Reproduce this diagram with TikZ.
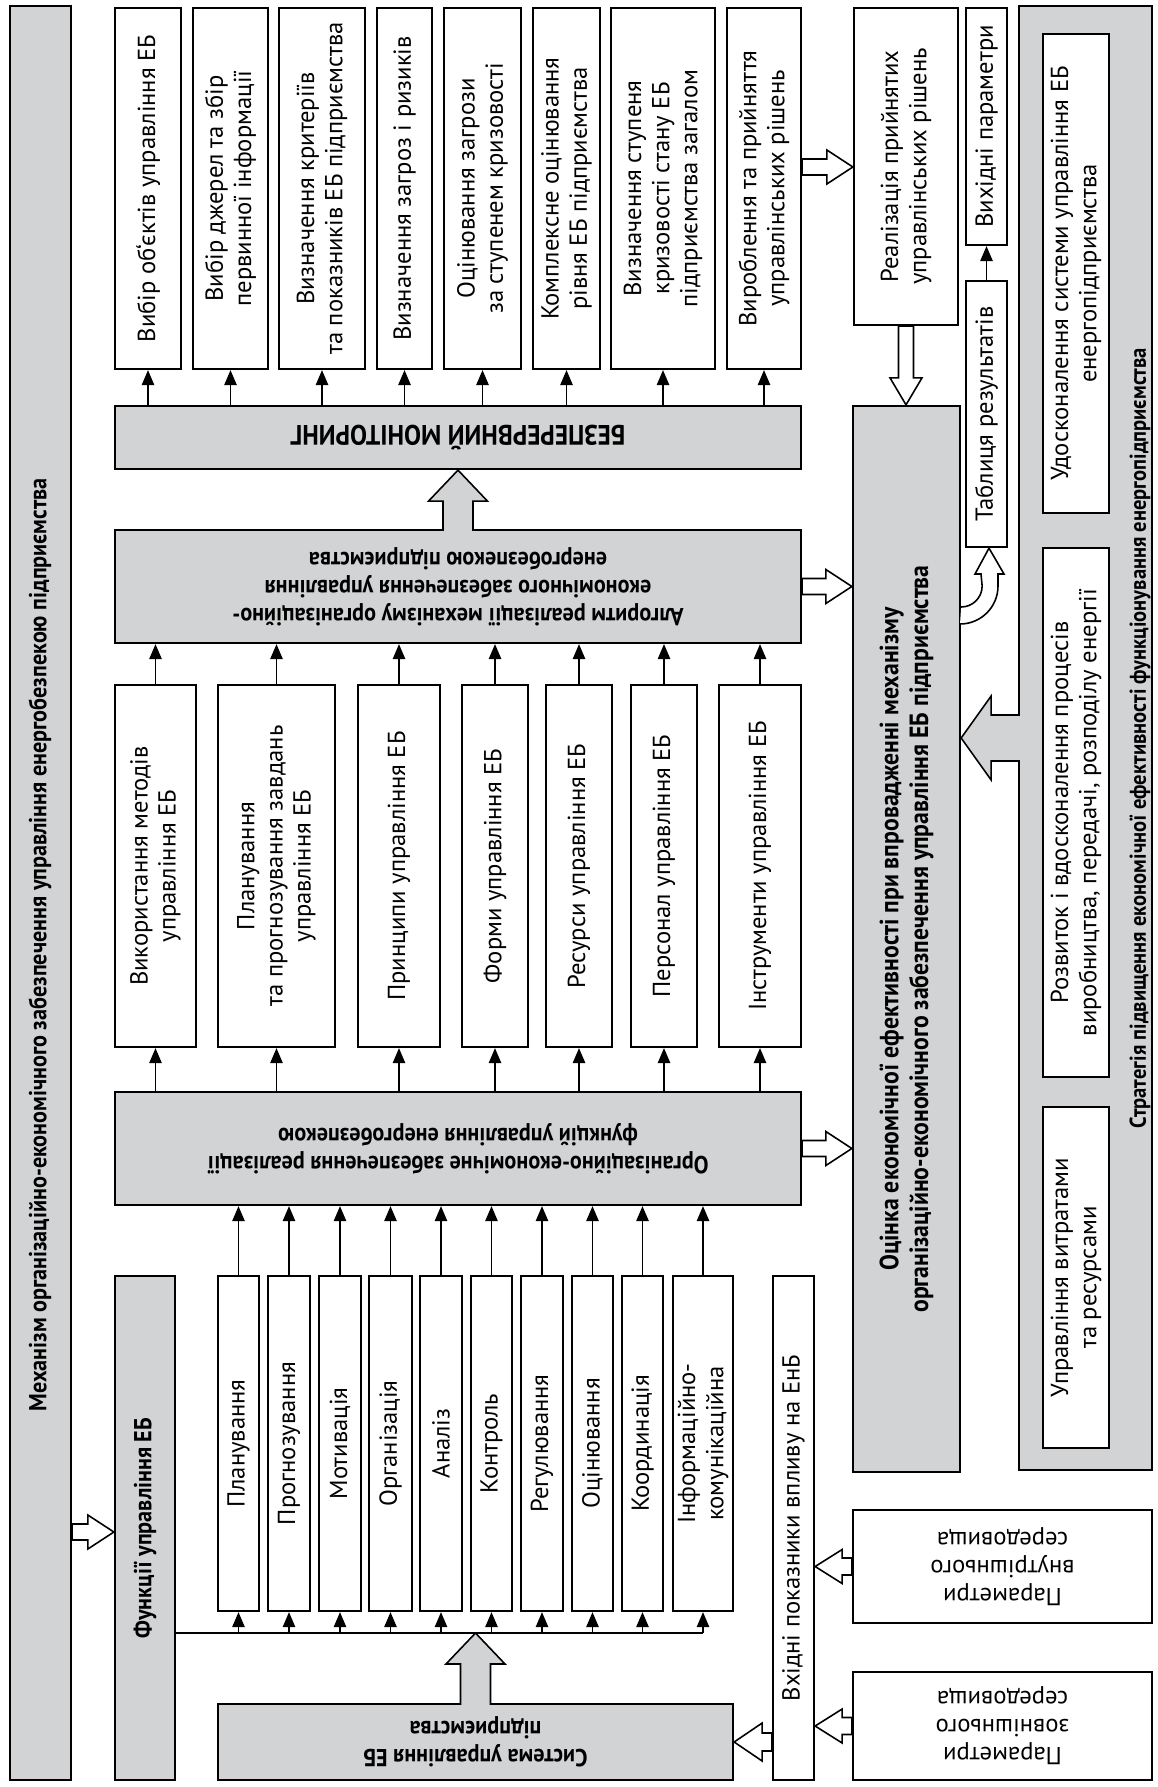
\documentclass[tikz,border=0pt]{standalone}
\usepackage{fontspec}
\setmainfont{PT Sans}[BoldFeatures={FakeStretch=0.9}]
\usetikzlibrary{arrows.meta,calc,fit}

\newcommand{\ebfont}{\fontsize{14}{16}\selectfont}
% block arrow: [style]{from}{to}{half shaft}{half head}{head length}{end}
\newcommand{\blockarrow}[7][fill=white]{%
  \coordinate (fa-a) at (#2);
  \coordinate (fa-b) at (#3);
  \coordinate (fa-h) at ($(fa-b)!#6!(fa-a)$);
  \filldraw[fat,#1] ($(fa-a)!#4!90:(fa-b)$) -- ($(fa-h)!#4!90:(fa-b)$)
    -- ($(fa-h)!#5!90:(fa-b)$) -- (fa-b) -- ($(fa-h)!#5!-90:(fa-b)$)
    -- ($(fa-h)!#4!-90:(fa-b)$) -- ($(fa-a)!#4!-90:(fa-b)$) #7;
}

\begin{document}
\begin{tikzpicture}[x=0.02cm,y=-0.02cm]
\definecolor{boxgray}{HTML}{D1D3D4}
\tikzset{
  box/.style={draw,line width=1.3pt,inner sep=0pt},
  wbox/.style={box,fill=white},
  gbox/.style={box,fill=boxgray},
  vtxt/.style={rotate=90,align=center,inner sep=0pt,font=\ebfont},
  vbold/.style={vtxt,font=\ebfont\bfseries},
  utxt/.style={rotate=180,align=center,inner sep=0pt,font=\ebfont},
  ubold/.style={utxt,font=\ebfont\bfseries},
  arr/.style={line width=0.7pt,-{Triangle[length=0.3cm,width=0.25cm]}},
  fat/.style={line width=0.9pt,line join=miter},
}
\useasboundingbox[fill=white] (0,0) rectangle (1158,1787);

% GREY BLOCKS
\node[gbox,fit={(10,6) (71,1780)}] (mech) {};
\node[vbold] (mech-t) at (40,945) {Механізм організаційно-економічного забезпечення управління енергобезпекою підприємства};
\node[gbox,fit={(115,406) (801,469)}] (mon) {};
\node[ubold,font=\fontsize{16}{18}\selectfont\bfseries] (mon-t) at (mon) {БЕЗПЕРЕРВНИЙ МОНІТОРИНГ};
\node[gbox,fit={(115,530) (801,643)}] (alg) {};
\node[ubold] (alg-t) at (alg) {Алгоритм реалізації механізму організаційно-\\економічного забезпечення управління\\енергобезпекою підприємства};
\node[gbox,fit={(115,1092) (801,1205)}] (org) {};
\node[ubold] (org-t) at (org) {Організаційно-економічне забезпечення реалізації\\функцій управління енергобезпекою};
\node[gbox,fit={(115,1276) (175,1780)}] (fun) {};
\node[vbold] (fun-t) at (fun) {Функції управління ЕБ};
\node[gbox,fit={(218,1704) (733,1780)}] (sys) {};
\node[ubold] (sys-t) at (sys) {Система управління ЕБ\\підприємства};
\node[gbox,fit={(853,406) (960,1472)}] (ocin) {};
\node[vbold,font=\fontsize{15}{17}\selectfont\bfseries] (ocin-t) at (ocin) {Оцінка економічної ефективності при впровадженні механізму\\організаційно-економічного забезпечення управління ЕБ підприємства};
\node[gbox,fit={(1019,6) (1152,1470)}] (strat) {};
\node[vbold,font=\fontsize{13}{16}\selectfont\bfseries] (strat-t) at (1140,738) {Стратегія підвищення економічної ефективності функціонування енергопідприємства};

% WHITE BLOCKS
\node[wbox,fit={(854,8) (958,325)}] (real) {};
\node[vtxt] (real-t) at (real) {Реалізація прийнятих\\управлінських рішень};
\node[wbox,fit={(966,8) (1007,245)}] (vyh) {};
\node[vtxt] (vyh-t) at (vyh) {Вихідні параметри};
\node[wbox,fit={(966,281) (1007,547)}] (tabl) {};
\node[vtxt] (tabl-t) at (tabl) {Таблиця результатів};
\node[wbox,fit={(773,1276) (814,1780)}] (vkh) {};
\node[vtxt] (vkh-t) at (vkh) {Вхідні показники впливу на ЕнБ};
\node[wbox,fit={(853,1510) (1152,1623)}] (pin) {};
\node[utxt] (pin-t) at (pin) {Параметри\\внутрішнього\\середовища};
\node[wbox,fit={(853,1672) (1152,1780)}] (pout) {};
\node[utxt] (pout-t) at (pout) {Параметри\\зовнішнього\\середовища};
\node[wbox,fit={(1043,34) (1109,513)}] (s1) {};
\node[vtxt] (s1-t) at (s1) {Удосконалення системи управління ЕБ\\енергопідприємства};
\node[wbox,fit={(1043,548) (1109,1077)}] (s2) {};
\node[vtxt] (s2-t) at (s2) {Розвиток і вдосконалення процесів\\виробництва, передачі, розподілу енергії};
\node[wbox,fit={(1043,1107) (1109,1448)}] (s3) {};
\node[vtxt] (s3-t) at (s3) {Управління витратами\\та ресурсами};

% MONITORING STEPS
\foreach \n/\xa/\xb/\txt in {
  1/115/181/{Вибір об`єктів управління ЕБ},
  2/193/268/{Вибір джерел та збір\\первинної інформації},
  3/279/365/{Визначення критеріїв\\та показників ЕБ підприємства},
  4/377/432/{Визначення загроз і ризиків},
  5/444/521/{Оцінювання загрози\\за ступенем кризовості},
  6/533/600/{Комплексне оцінювання\\рівня ЕБ підприємства},
  7/611/715/{Визначення ступеня\\кризовості стану ЕБ\\підприємства загалом},
  8/727/801/{Вироблення та прийняття\\управлінських рішень}}{
  \node[wbox,fit={(\xa,8) (\xb,369)}] (top\n) {};
  \node[vtxt] (top\n-t) at (top\n) {\txt};
  \draw[arr] (mon.north -| top\n) -- (top\n.south);
}

% MEANS OF MANAGEMENT
\foreach \n/\xa/\xb/\txt in {
  1/115/196/{Використання методів\\управління ЕБ},
  2/218/335/{Планування\\та прогнозування завдань\\управління ЕБ},
  3/358/440/{Принципи управління ЕБ},
  4/462/528/{Форми управління ЕБ},
  5/546/612/{Ресурси управління ЕБ},
  6/631/697/{Персонал управління ЕБ},
  7/719/801/{Інструменти управління ЕБ}}{
  \node[wbox,fit={(\xa,685) (\xb,1047)}] (mid\n) {};
  \node[vtxt] (mid\n-t) at (mid\n) {\txt};
  \draw[arr] (mid\n.north) -- (alg.south -| mid\n);
  \draw[arr] (org.north -| mid\n) -- (mid\n.south);
}

% FUNCTIONS
\foreach \n/\xa/\xb/\txt in {
  1/218/259/{Планування},
  2/268/310/{Прогнозування},
  3/319/361/{Мотивація},
  4/369/412/{Організація},
  5/420/462/{Аналіз},
  6/471/512/{Контроль},
  7/521/563/{Регулювання},
  8/572/613/{Оцінювання},
  9/622/663/{Координація},
  10/673/733/{Інформаційно-\\комунікаційна}}{
  \node[wbox,fit={(\xa,1276) (\xb,1611)}] (f\n) {};
  \node[vtxt] (f\n-t) at (f\n) {\txt};
  \draw[arr] (f\n.north) -- (org.south -| f\n);
}
\coordinate (busL) at (fun.east |- 0,1633);
\draw[line width=0.7pt] (busL) -- (busL -| f10);
\foreach \n in {1,...,10}
  \draw[arr] (busL -| f\n) -- (f\n.south);

% CONNECTORS
\draw[arr] (tabl.north) -- (vyh.south);
\blockarrow[fill=boxgray]{$(alg.north)+(0,2)$}{alg.north |- mon.south}{0.3cm}{0.59cm}{0.62cm}{}
\blockarrow[fill=boxgray]{$(sys.north)+(0,2)$}{sys.north |- busL}{0.3cm}{0.59cm}{0.62cm}{}
\blockarrow[fill=boxgray]{$(strat.west |- 0,738)+(2,0)$}{ocin.east |- 0,738}{0.46cm}{0.84cm}{0.6cm}{}
\blockarrow{mech.east |- 0,1532}{fun.west |- 0,1532}{0.16cm}{0.34cm}{0.52cm}{--cycle}
\blockarrow{top8.east |- 0,167}{real.west |- 0,167}{0.16cm}{0.34cm}{0.52cm}{--cycle}
\blockarrow{real.south}{real.south |- ocin.north}{0.15cm}{0.32cm}{0.54cm}{--cycle}
\blockarrow{alg.east}{alg.east -| ocin.west}{0.16cm}{0.34cm}{0.52cm}{--cycle}
\blockarrow{org.east}{org.east -| ocin.west}{0.16cm}{0.34cm}{0.52cm}{--cycle}
\blockarrow{sys.east -| vkh.west}{sys.east}{0.18cm}{0.38cm}{0.56cm}{--cycle}
\blockarrow{pin.west}{pin.west -| vkh.east}{0.17cm}{0.34cm}{0.54cm}{--cycle}
\blockarrow{pout.west}{pout.west -| vkh.east}{0.17cm}{0.34cm}{0.54cm}{--cycle}
\filldraw[fat,fill=white] (ocin.east |- 0,607) arc[start angle=-90,end angle=0,radius=0.42cm]
  -- (981,574) -- (975,574) -- (tabl.south -| 989,0) -- (1004,574) -- (998,574) -- (998,586)
  arc[start angle=0,end angle=-90,radius=0.76cm];
\end{tikzpicture}
\end{document}
